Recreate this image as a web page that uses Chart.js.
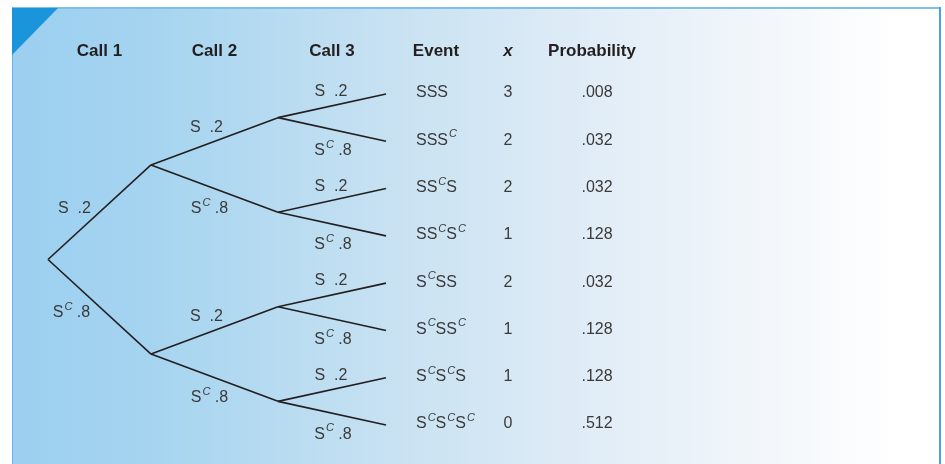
<!DOCTYPE html>
<html>
<head>
<meta charset="utf-8">
<script src="https://cdn.jsdelivr.net/npm/chart.js@4.4.1/dist/chart.umd.min.js"></script>
<style>
  html, body { margin: 0; padding: 0; background: #fff; }
  canvas { display: block; }
</style>
</head>
<body>
<canvas id="tree" width="945" height="464"></canvas>
<script>
// ============================================================
// Tree diagram — three calls, P(S) = .2
// ============================================================

// --- data ('c' after S means complement, drawn as superscript C)
const callLabels    = ['Call 1', 'Call 2', 'Call 3'];
const outcomes      = ['S', 'Sc'];
const outcomeProbs  = [0.2, 0.8];
const events        = ['SSS', 'SSSc', 'SScS', 'SScSc', 'ScSS', 'ScSSc', 'ScScS', 'ScScSc'];
const xValues       = [3, 2, 2, 1, 2, 1, 1, 0];
const probabilities = [0.008, 0.032, 0.032, 0.128, 0.032, 0.128, 0.128, 0.512];
const tableHeaders  = ['Event', 'x', 'Probability'];

// --- layout (x axis in page units, y axis in leaf rows)
const LEVEL_X  = [48, 151, 278, 386];
const COL_X    = [416, 508, 597];        // event (left), x (center), probability (center)
const HEAD_X   = [436, 508, 592];
const HEAD_ROW = -0.91;
const LABEL_OFF = [                      // [upper, lower] pixel nudges per level
  [[-25, -4], [-28, 6]],
  [[-8, -13.5], [-5, 20]],
  [[-1, -14], [1, 21]],
];

const INK  = '#231f20';
const TEXT = '#3a3a3a';
const FONT = '"Liberation Sans", Arial, sans-serif';

// node rows: leaves 0..7, parents are means of their children
const levelRows = [events.map((_, i) => i)];
while (levelRows[0].length > 1) {
  const kids = levelRows[0], up = [];
  for (let i = 0; i < kids.length; i += 2) up.push((kids[i] + kids[i + 1]) / 2);
  levelRows.unshift(up);
}

const edges = [];
for (let L = 0; L < 3; L++) {
  levelRows[L].forEach((row, j) => {
    [0, 1].forEach(k => {
      edges.push({
        level: L, branch: k,
        data: [{ x: LEVEL_X[L], y: row }, { x: LEVEL_X[L + 1], y: levelRows[L + 1][2 * j + k] }],
      });
    });
  });
}

const fmtProb = v => String(v).replace(/^0/, '');

function runsOf(str) {
  const runs = [];
  for (const ch of str) {
    if (ch === 'c') runs.push({ t: 'C', sup: true });
    else runs.push({ t: ch });
  }
  return runs;
}

function drawRuns(ctx, runs, x, y, align) {
  const base = `16px ${FONT}`, sup = `italic 11px ${FONT}`;
  let w = 0;
  runs.forEach(r => { ctx.font = r.sup ? sup : base; r.w = ctx.measureText(r.t).width + (r.sup ? 1 : 0); w += r.w; });
  let cx = align === 'center' ? x - w / 2 : x;
  ctx.textAlign = 'left';
  runs.forEach(r => {
    ctx.font = r.sup ? sup : base;
    ctx.textBaseline = 'middle';
    ctx.fillText(r.t, cx + (r.sup ? 1 : 0), r.sup ? y - 6 : y);
    cx += r.w;
  });
}

const framePlugin = {
  id: 'frame',
  beforeDraw(chart) {
    const { ctx, width, height } = chart;
    ctx.save();
    ctx.fillStyle = '#fff';
    ctx.fillRect(0, 0, width, height);
    const g = ctx.createLinearGradient(12, 0, 940, 0);
    g.addColorStop(0.00, '#9ccff0');
    g.addColorStop(0.15, '#a5d4f0');
    g.addColorStop(0.42, '#c9e2f2');
    g.addColorStop(0.64, '#e2edf7');
    g.addColorStop(0.82, '#f3f7fb');
    g.addColorStop(0.96, '#ffffff');
    ctx.fillStyle = g;
    ctx.fillRect(12, 8, 928, height - 8);
    // borders
    ctx.fillStyle = '#7dc0ea';
    ctx.fillRect(12, 7, 928, 2);
    ctx.fillStyle = '#4aa3e0';
    ctx.fillRect(939, 7, 2, height - 7);
    ctx.fillStyle = '#6ab6ea';
    ctx.fillRect(12, 7, 1, height - 7);
    // corner
    ctx.fillStyle = '#1a95dc';
    ctx.beginPath();
    ctx.moveTo(12, 8); ctx.lineTo(58, 8); ctx.lineTo(12, 55); ctx.closePath();
    ctx.fill();
    ctx.restore();
  },
};

const textPlugin = {
  id: 'treeText',
  afterDatasetsDraw(chart) {
    const { ctx, scales: { x, y } } = chart;
    ctx.save();
    const hy = y.getPixelForValue(HEAD_ROW);

    // headers
    ctx.fillStyle = INK;
    ctx.textAlign = 'center';
    ctx.textBaseline = 'middle';
    ctx.font = `bold 17px ${FONT}`;
    callLabels.forEach((lab, i) => {
      const px = (x.getPixelForValue(LEVEL_X[i]) + x.getPixelForValue(LEVEL_X[i + 1])) / 2;
      ctx.fillText(lab, px, hy);
    });
    tableHeaders.forEach((lab, i) => {
      ctx.font = (lab === 'x' ? 'italic ' : '') + `bold 17px ${FONT}`;
      ctx.fillText(lab, HEAD_X[i], hy);
    });

    // branch labels
    ctx.fillStyle = TEXT;
    edges.forEach(e => {
      const p0 = { x: x.getPixelForValue(e.data[0].x), y: y.getPixelForValue(e.data[0].y) };
      const p1 = { x: x.getPixelForValue(e.data[1].x), y: y.getPixelForValue(e.data[1].y) };
      const off = LABEL_OFF[e.level][e.branch];
      const sp = e.branch === 0 ? '  ' : ' ';
      const runs = runsOf(outcomes[e.branch]).concat([{ t: sp + fmtProb(outcomeProbs[e.branch]) }]);
      drawRuns(ctx, runs, (p0.x + p1.x) / 2 + off[0], (p0.y + p1.y) / 2 + off[1], 'center');
    });

    // table rows
    events.forEach((ev, i) => {
      const py = y.getPixelForValue(i) - 1;
      drawRuns(ctx, runsOf(ev), COL_X[0], py, 'left');
      drawRuns(ctx, [{ t: String(xValues[i]) }], COL_X[1], py, 'center');
      drawRuns(ctx, [{ t: probabilities[i].toFixed(3).replace(/^0/, '') }], COL_X[2], py, 'center');
    });
    ctx.restore();
  },
};

const ROW_PX = 47.286, TOP_PX = 94, H = 464;

new Chart(document.getElementById('tree'), {
  type: 'scatter',
  data: {
    datasets: edges.map(e => ({
      data: e.data,
      showLine: true,
      borderColor: INK,
      borderWidth: 1.6,
      pointRadius: 0,
      fill: false,
    })),
  },
  options: {
    responsive: false,
    animation: false,
    events: [],
    layout: { padding: 0 },
    plugins: { legend: { display: false }, tooltip: { enabled: false } },
    scales: {
      x: { type: 'linear', display: false, min: 0, max: 945 },
      y: { type: 'linear', display: false, reverse: true,
           min: -TOP_PX / ROW_PX, max: (H - TOP_PX) / ROW_PX },
    },
  },
  plugins: [framePlugin, textPlugin],
});
</script>
</body>
</html>
